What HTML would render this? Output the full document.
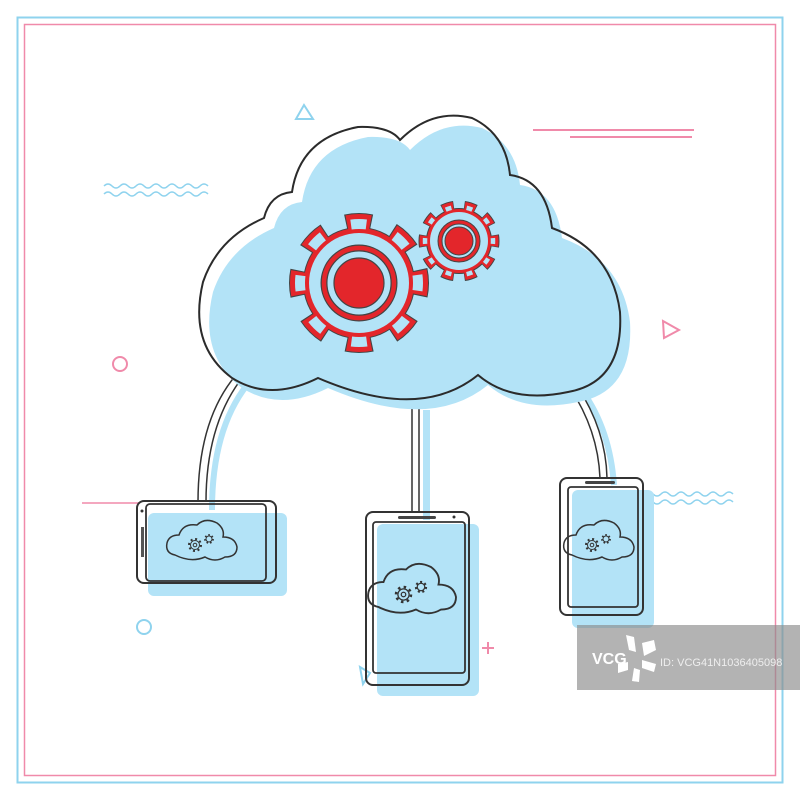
<!DOCTYPE html>
<html><head><style>html,body{margin:0;padding:0;background:#fff}svg{display:block}</style></head>
<body>
<svg width="800" height="800" viewBox="0 0 800 800" xmlns="http://www.w3.org/2000/svg">
<defs>
  <path id="cl" d="M318,378 Q270,402 232,378 Q188,345 203,282 Q218,238 264,218 Q270,194 292,192 Q300,138 358,127 Q390,126 400,140 Q432,108 472,118 Q506,134 510,175 Q546,180 552,228 Q612,250 620,312 Q624,382 568,392 Q512,404 478,375 Q420,422 318,378 Z"/>
  <g id="mini">
    <path d="M-30,12 Q-40,10 -38,0 Q-36,-8 -26,-8 Q-22,-20 -8,-18 Q0,-26 12,-20 Q20,-14 18,-6 Q30,-6 32,4 Q32,14 20,14 Q10,20 0,14 Q-14,20 -30,12 Z" fill="none" stroke="#333" stroke-width="1.5"/>
    <circle cx="-10" cy="2" r="6" fill="none" stroke="#333" stroke-width="2" stroke-dasharray="2 2.7"/>
    <circle cx="-10" cy="2" r="4.5" fill="none" stroke="#333" stroke-width="1"/>
    <circle cx="-10" cy="2" r="1.8" fill="none" stroke="#333" stroke-width="1"/>
    <circle cx="4" cy="-4" r="4" fill="none" stroke="#333" stroke-width="1.8" stroke-dasharray="1.6 2"/>
    <circle cx="4" cy="-4" r="3" fill="none" stroke="#333" stroke-width="1"/>
  </g>
</defs>
<rect x="17.5" y="17.5" width="765" height="765" fill="none" stroke="#8fd3ee" stroke-width="2"/>
<rect x="24.5" y="24.5" width="751" height="751" fill="none" stroke="#f08aaa" stroke-width="1.5"/>

<!-- decorations -->
<polygon points="304,105 296,119 313,119" fill="none" stroke="#8fd3ee" stroke-width="2"/>
<path d="M104,186 q4,-4 8,0 t8,0 t8,0 t8,0 t8,0 t8,0 t8,0 t8,0 t8,0 t8,0 t8,0 t8,0 t8,0 M104,194 q4,-4 8,0 t8,0 t8,0 t8,0 t8,0 t8,0 t8,0 t8,0 t8,0 t8,0 t8,0 t8,0 t8,0" fill="none" stroke="#8fd3ee" stroke-width="1.5"/>
<line x1="533" y1="130" x2="694" y2="130" stroke="#f08aaa" stroke-width="2"/>
<line x1="570" y1="137" x2="692" y2="137" stroke="#f08aaa" stroke-width="2"/>
<circle cx="120" cy="364" r="7" fill="none" stroke="#f08aaa" stroke-width="2"/>
<polygon points="663,321 679,330 664,338" fill="none" stroke="#f08aaa" stroke-width="2"/>
<path d="M645,494 q4,-4 8,0 t8,0 t8,0 t8,0 t8,0 t8,0 t8,0 t8,0 t8,0 t8,0 t8,0 M645,502 q4,-4 8,0 t8,0 t8,0 t8,0 t8,0 t8,0 t8,0 t8,0 t8,0 t8,0 t8,0" fill="none" stroke="#8fd3ee" stroke-width="1.5"/>
<line x1="82" y1="503" x2="140" y2="503" stroke="#f08aaa" stroke-width="1.5"/>
<circle cx="144" cy="627" r="7" fill="none" stroke="#8fd3ee" stroke-width="2"/>
<path d="M488,642 v12 M482,648 h12" stroke="#f08aaa" stroke-width="2"/>
<polygon points="360,667 370,673 363,684" fill="none" stroke="#8fd3ee" stroke-width="2"/>

<!-- connectors blue -->
<path d="M247,385 Q212,430 212,510" fill="none" stroke="#b3e3f7" stroke-width="6"/>
<rect x="423" y="410" width="7" height="110" fill="#b3e3f7"/>
<path d="M583,392 Q610,430 614,485" fill="none" stroke="#b3e3f7" stroke-width="6"/>
<!-- connectors black double -->
<path d="M236,375 Q198,420 198,502 M242,378 Q206,425 206,502" fill="none" stroke="#333" stroke-width="1.5"/>
<path d="M412,408 V513 M419,408 V513" fill="none" stroke="#333" stroke-width="1.5"/>
<path d="M570,388 Q598,430 600,478 M577,386 Q606,430 607,478" fill="none" stroke="#333" stroke-width="1.5"/>

<!-- cloud -->
<use href="#cl" transform="translate(10,10)" fill="#b3e3f7"/>
<use href="#cl" fill="none" stroke="#2b2b2b" stroke-width="2"/>

<!-- big gear -->
<g transform="translate(359,283)">
  <circle r="62" pathLength="360" fill="none" stroke="#444" stroke-width="16" stroke-dasharray="24 21" stroke-dashoffset="12"/>
  <circle r="56" fill="#444"/>
  <circle r="61.5" pathLength="360" fill="none" stroke="#e3262b" stroke-width="15" stroke-dasharray="22 23" stroke-dashoffset="11"/>
  <circle r="55" fill="#e3262b"/>
  <circle r="59" pathLength="360" fill="none" stroke="#b3e3f7" stroke-width="10" stroke-dasharray="15 30" stroke-dashoffset="7.5"/>
  <circle r="50" fill="#b3e3f7"/>
  <circle r="35" fill="none" stroke="#444" stroke-width="7"/>
  <circle r="35" fill="none" stroke="#e3262b" stroke-width="4.5"/>
  <circle r="25" fill="#e3262b" stroke="#444" stroke-width="1.2"/>
</g>
<g transform="translate(459,241)">
  <circle r="36" pathLength="360" fill="none" stroke="#444" stroke-width="9" stroke-dasharray="19 17" stroke-dashoffset="9.5"/>
  <circle r="33" fill="#444"/>
  <circle r="35.5" pathLength="360" fill="none" stroke="#e3262b" stroke-width="8" stroke-dasharray="17 19" stroke-dashoffset="8.5"/>
  <circle r="32" fill="#e3262b"/>
  <circle r="34" pathLength="360" fill="none" stroke="#b3e3f7" stroke-width="4.5" stroke-dasharray="10 26" stroke-dashoffset="5"/>
  <circle r="29" fill="#b3e3f7"/>
  <circle r="19" fill="none" stroke="#444" stroke-width="5"/>
  <circle r="19" fill="none" stroke="#e3262b" stroke-width="3"/>
  <circle r="14" fill="#e3262b" stroke="#444" stroke-width="1"/>
</g>

<!-- left tablet -->
<rect x="148" y="513" width="139" height="83" rx="6" fill="#b3e3f7"/>
<rect x="137" y="501" width="139" height="82" rx="7" fill="none" stroke="#333" stroke-width="2"/>
<rect x="146" y="504" width="120" height="77" rx="4" fill="none" stroke="#333" stroke-width="1.8"/>
<rect x="141" y="527" width="3" height="30" fill="#555"/>
<circle cx="142" cy="511" r="1.5" fill="#333"/>
<use href="#mini" transform="translate(205,543)"/>

<!-- middle phone -->
<rect x="377" y="524" width="102" height="172" rx="6" fill="#b3e3f7"/>
<rect x="366" y="512" width="103" height="173" rx="7" fill="none" stroke="#333" stroke-width="2"/>
<rect x="373" y="522" width="92" height="151" rx="3" fill="none" stroke="#333" stroke-width="1.8"/>
<rect x="398" y="516" width="38" height="3" rx="1.5" fill="#444"/>
<circle cx="454" cy="517" r="1.5" fill="#333"/>
<use href="#mini" transform="translate(416,592) scale(1.25)"/>

<!-- right phone -->
<rect x="572" y="490" width="82" height="138" rx="6" fill="#b3e3f7"/>
<rect x="560" y="478" width="83" height="137" rx="7" fill="none" stroke="#333" stroke-width="2"/>
<rect x="568" y="487" width="70" height="120" rx="3" fill="none" stroke="#333" stroke-width="1.8"/>
<rect x="585" y="481" width="30" height="3" rx="1.5" fill="#444"/>
<use href="#mini" transform="translate(602,543)"/>

<!-- watermark -->
<rect x="577" y="625" width="223" height="65" fill="#8a8a8a" fill-opacity="0.65"/>
<text x="592" y="664" font-family="Liberation Sans, sans-serif" font-weight="bold" font-size="16" fill="#fff">VCG</text>
<g fill="#fff" transform="translate(6,0)">
  <polygon points="620,635 628,637 630,652 623,650"/>
  <polygon points="636,643 648,640 650,650 638,656"/>
  <polygon points="636,660 650,664 648,672 636,668"/>
  <polygon points="628,668 634,670 633,682 626,681"/>
  <polygon points="612,664 622,662 622,670 612,673"/>
</g>
<text x="660" y="666" font-family="Liberation Sans, sans-serif" font-size="11" fill="#eee">ID: VCG41N1036405098</text>
</svg>
</body></html>
